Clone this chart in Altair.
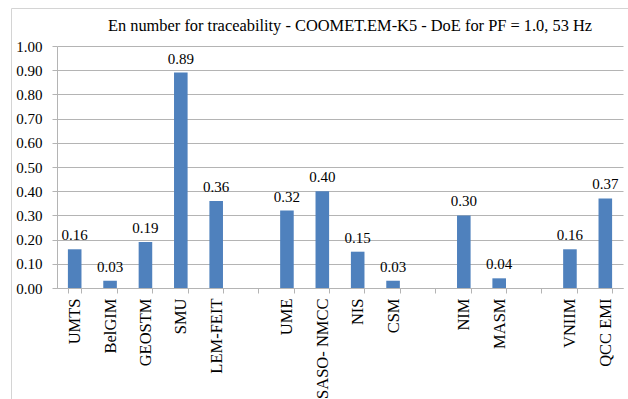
import altair as alt
import pandas as pd

# Institutes in plotting order; empty names are spacer slots between groups
names = ["UMTS", "BelGIM", "GEOSTM", "SMU", "LEM-FEIT", "",
         "UME", "SASO- NMCC", "NIS", "CSM", "",
         "NIM", "MASM", "",
         "VNIIM", "QCC EMI"]
en_values = [0.16, 0.03, 0.19, 0.89, 0.36, None,
             0.32, 0.40, 0.15, 0.03, None,
             0.30, 0.04, None,
             0.16, 0.37]
y_ticks = [0.0, 0.1, 0.2, 0.3, 0.4, 0.5, 0.6, 0.7, 0.8, 0.9, 1.0]
title_text = "En number for traceability - COOMET.EM-K5 - DoE for PF = 1.0, 53 Hz"

slots = list(range(len(names)))
df = pd.DataFrame({"slot": slots, "name": names, "en": en_values}).dropna()

FONT = "Liberation Serif"
BAR = "#4f81bd"
GRID = "#b4b4b4"

label_expr = "[" + ",".join(repr(n) for n in names) + "][datum.value]"

x = alt.X(
    "slot:O",
    scale=alt.Scale(domain=slots, paddingInner=0.616, paddingOuter=0.308),
    axis=alt.Axis(
        title=None, labelAngle=-90, labelExpr=label_expr, labelFont=FONT,
        labelFontSize=16.5, labelColor="#000000", labelPadding=5,
        tickBand="extent", tickSize=5, tickColor=GRID, domainColor=GRID,
        grid=False,
    ),
)
y = alt.Y(
    "en:Q",
    scale=alt.Scale(domain=[0, 1], nice=False),
    axis=alt.Axis(
        title=None, values=y_ticks, format=".2f", labelFont=FONT,
        labelFontSize=15, labelColor="#000000", labelPadding=10,
        tickSize=5, tickColor=GRID, domainColor=GRID, gridColor=GRID,
    ),
)

base = alt.Chart(df)
bars = base.mark_bar(color=BAR).encode(x=x, y=y)
labels = base.mark_text(
    font=FONT, fontSize=15, color="#000000", baseline="alphabetic", dy=-9
).encode(x=x, y=y, text=alt.Text("en:Q", format=".2f"))

# Decorative chart-area frame and the heading above the plot
deco = alt.Chart(alt.Data(values=[{"k": 1}]))
frame_left = deco.mark_rule(color="#d4d4d4", strokeWidth=1).encode(
    x=alt.value(-45.5), y=alt.value(-37.5), y2=alt.value(360)
)
frame_top = deco.mark_rule(color="#d4d4d4", strokeWidth=1).encode(
    x=alt.value(-45.5), x2=alt.value(580), y=alt.value(-37.5)
)
heading = deco.mark_text(
    font=FONT, fontSize=16.4, color="#000000", align="center", baseline="alphabetic"
).encode(x=alt.value(293), y=alt.value(-15), text=alt.value(title_text))

chart = alt.layer(bars, labels, frame_left, frame_top, heading).properties(
    width=566,
    height=242,
    padding={"left": 57, "top": 46, "right": 5, "bottom": 111},
    autosize=alt.AutoSizeParams(type="none"),
    background="white",
).configure(font=FONT).configure_view(stroke=None)

chart.save("out.html", embed_options={"renderer": "svg", "actions": False})
